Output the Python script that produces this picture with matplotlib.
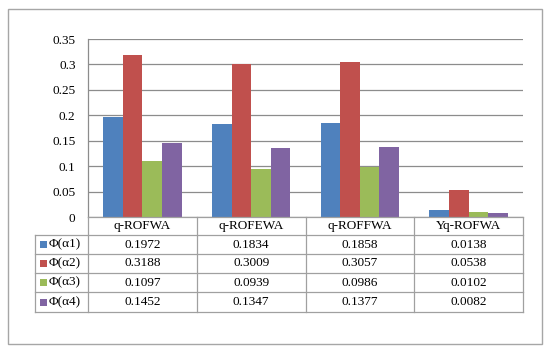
import matplotlib
matplotlib.use("Agg")
import matplotlib.pyplot as plt
from matplotlib.patches import Rectangle
import numpy as np

categories = ["q-ROFWA", "q-ROFEWA", "q-ROFFWA", "Yq-ROFWA"]
series_names = ["Φ(α1)", "Φ(α2)", "Φ(α3)", "Φ(α4)"]
phi1 = [0.1972, 0.1834, 0.1858, 0.0138]
phi2 = [0.3188, 0.3009, 0.3057, 0.0538]
phi3 = [0.1097, 0.0939, 0.0986, 0.0102]
phi4 = [0.1452, 0.1347, 0.1377, 0.0082]
y_ticks = [0, 0.05, 0.1, 0.15, 0.2, 0.25, 0.3, 0.35]
y_tick_labels = ["0", "0.05", "0.1", "0.15", "0.2", "0.25", "0.3", "0.35"]

series = [phi1, phi2, phi3, phi4]
colors = ["#4F81BD", "#C0504D", "#9BBB59", "#8064A2"]

plt.rcParams['font.family'] = ['Liberation Serif', 'DejaVu Serif']
FS = 9.5

W, H = 550, 352
fig = plt.figure(figsize=(W / 100, H / 100), dpi=100)

def fx(px):
    return px / W

def fy(py):
    return 1 - py / H

# outer border
fig.patches.append(Rectangle((fx(8), fy(344)), fx(542) - fx(8), fy(9) - fy(344),
                             transform=fig.transFigure, fill=False,
                             edgecolor="#A6A6A6", linewidth=1.0))

# plot area
L, R, T, B = 88, 523, 39, 217
ax = fig.add_axes([fx(L), fy(B), fx(R) - fx(L), fy(T) - fy(B)])
n_cat = len(categories)
n_ser = len(series)
x = np.arange(n_cat)
bw = 0.18
for i, (vals, c) in enumerate(zip(series, colors)):
    ax.bar(x + (i - (n_ser - 1) / 2) * bw, vals, width=bw, color=c, zorder=3)
ax.set_xlim(-0.5, n_cat - 0.5)
ax.set_ylim(0, 0.35)
ax.set_yticks(y_ticks)
ax.set_yticklabels(y_tick_labels, fontsize=FS)
ax.set_xticks([])
ax.tick_params(axis='y', length=0, pad=9)
ax.yaxis.grid(True, color="#8C8C8C", linewidth=0.9, zorder=0)
for s in ["top", "right", "bottom"]:
    ax.spines[s].set_visible(False)
ax.spines["left"].set_color("#8C8C8C")
ax.spines["left"].set_linewidth(0.9)

# data table
tab_left = 35
row_edges = [217, 235, 254, 273, 292, 312]
col_w = (R - L) / n_cat
col_edges = [L + k * col_w for k in range(n_cat + 1)]
lc = "#A0A0A0"
lw = 0.9

def hline(y, x0, x1):
    fig.add_artist(plt.Line2D([fx(x0), fx(x1)], [fy(y), fy(y)], color=lc, lw=lw,
                              transform=fig.transFigure))

def vline(xp, y0, y1):
    fig.add_artist(plt.Line2D([fx(xp), fx(xp)], [fy(y0), fy(y1)], color=lc, lw=lw,
                              transform=fig.transFigure))

hline(row_edges[0], L, R)
for yv in row_edges[1:]:
    hline(yv, tab_left, R)
for xe in col_edges:
    vline(xe, row_edges[0], row_edges[-1])
vline(tab_left, row_edges[1], row_edges[-1])

for k, cat in enumerate(categories):
    cx = (col_edges[k] + col_edges[k + 1]) / 2
    cy = (row_edges[0] + row_edges[1]) / 2
    fig.text(fx(cx), fy(cy), cat, ha="center", va="center", fontsize=FS)

for i, (name, vals, c) in enumerate(zip(series_names, series, colors)):
    cy = (row_edges[i + 1] + row_edges[i + 2]) / 2
    fig.patches.append(Rectangle((fx(40), fy(cy + 3.5)), fx(7), fy(0) - fy(7),
                                 transform=fig.transFigure, facecolor=c,
                                 edgecolor="none"))
    fig.text(fx(49), fy(cy), name, ha="left", va="center", fontsize=FS)
    for k, v in enumerate(vals):
        cx = (col_edges[k] + col_edges[k + 1]) / 2
        fig.text(fx(cx), fy(cy), f"{v:.4f}", ha="center", va="center", fontsize=FS)

fig.savefig("out.png", dpi=100)
